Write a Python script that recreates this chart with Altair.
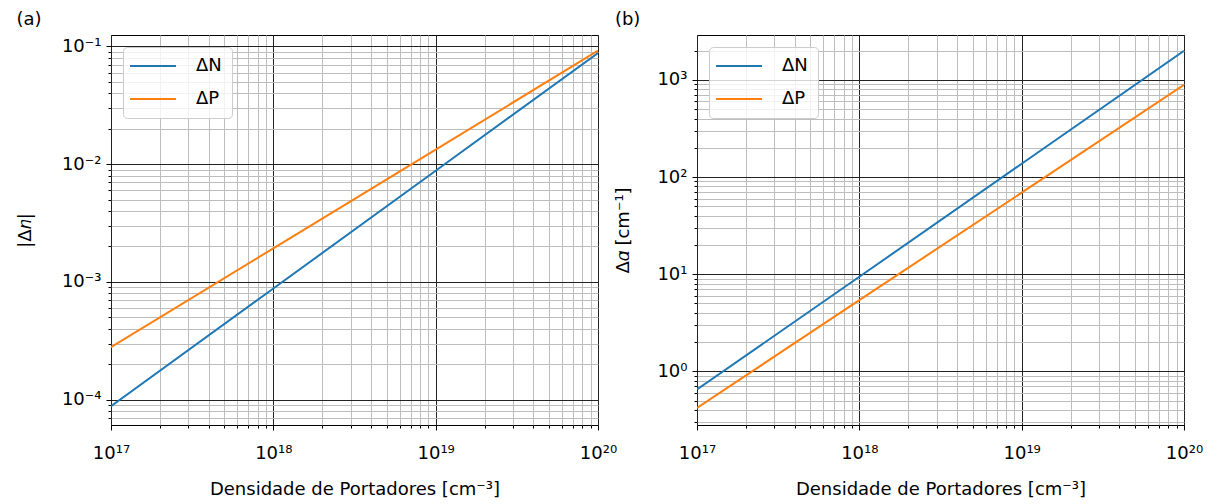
import altair as alt
import pandas as pd

# Carrier density [cm^-3]
densidade = [1e17, 1e18, 1e19, 1e20]

# (a) refractive index change |Δn|
dn_eletrons = [8.8e-5, 8.8e-4, 8.8e-3, 8.8e-2]
dn_lacunas = [2.8e-4, 1.93e-3, 1.33e-2, 9.2e-2]

# (b) absorption change Δα [cm^-1]
da_eletrons = [0.65, 9.4, 137, 1990]
da_lacunas = [0.42, 5.4, 69, 890]

series = ["ΔN", "ΔP"]
cores = ["#1f77b4", "#ff7f0e"]

FONT = "DejaVu Sans"
FS = 18
W, H = 487, 390

SUP = str.maketrans("-0123456789", "⁻⁰¹²³⁴⁵⁶⁷⁸⁹")


def frame(values_n, values_p):
    return pd.DataFrame({
        "x": densidade * 2,
        "y": values_n + values_p,
        "serie": [series[0]] * len(values_n) + [series[1]] * len(values_p),
    })


def log_ticks(e0, e1):
    vals = []
    for e in range(e0, e1):
        for m in range(1, 10):
            vals.append(m * 10.0 ** e)
    vals.append(10.0 ** e1)
    return vals


def label_expr(exps):
    expr = "''"
    for e in reversed(exps):
        expr = (f"abs(log(datum.value)/LN10 - ({e})) < 1e-6 ? "
                f"'10{str(e).translate(SUP)}' : " + expr)
    return expr


DECADE = "abs(log(datum.value)/LN10 - round(log(datum.value)/LN10)) < 1e-6"


def axis(values, exps, title, **kw):
    return alt.Axis(
        values=values,
        labelExpr=label_expr(exps),
        title=title,
        grid=True,
        gridColor={"condition": {"test": DECADE, "value": "#222222"}, "value": "#bdbdbd"},
        gridWidth=1,
        tickSize={"condition": {"test": DECADE, "value": 5}, "value": 3},
        tickColor="black",
        domain=False,
        labelFont=FONT,
        labelFontSize=FS,
        labelColor="black",
        titleFont=FONT,
        titleFontSize=FS,
        titleFontWeight="normal",
        titleColor="black",
        labelFlush=False,
        labelOverlap=False,
        **kw,
    )


def painel(df, rotulo, ytitle, ydomain, yexp, ytitle_pad):
    xs = alt.X(
        "x:Q",
        scale=alt.Scale(type="log", domain=[1e17, 1e20], nice=False),
        axis=axis(log_ticks(17, 20), [17, 18, 19, 20],
                  "Densidade de Portadores [cm⁻³]", labelPadding=14, titlePadding=18),
    )
    ys = alt.Y(
        "y:Q",
        scale=alt.Scale(type="log", domain=ydomain, nice=False),
        axis=axis(log_ticks(yexp[0] - 1, yexp[1] + 1), list(range(yexp[0], yexp[1] + 1)),
                  ytitle, labelPadding=5, titlePadding=ytitle_pad),
    )
    return alt.Chart(df).mark_line(strokeWidth=2, clip=True).encode(
        x=xs,
        y=ys,
        color=alt.Color(
            "serie:N",
            scale=alt.Scale(domain=series, range=cores),
            legend=alt.Legend(
                title=None,
                orient="none",
                legendX=12,
                legendY=12,
                symbolType="M-4,0H4",
                symbolSize=132,
                symbolStrokeWidth=2.2,
                symbolOffset=11,
                labelFont=FONT,
                labelFontSize=FS,
                labelColor="black",
                labelOffset=34,
                rowPadding=15,
                padding=10,
                fillColor="rgba(255,255,255,0.8)",
                strokeColor="#cccccc",
                cornerRadius=4,
            ),
        ),
    ).properties(
        width=W,
        height=H,
        title=alt.TitleParams(rotulo, anchor="start", font=FONT, fontSize=FS,
                              fontWeight="normal", color="black", offset=6),
    )


a = painel(frame(dn_eletrons, dn_lacunas), "(a)", "|Δ𝑛|", [6.1e-5, 0.125], (-4, -1), 27)
b = painel(frame(da_eletrons, da_lacunas), "(b)", "Δ𝛼 [cm⁻¹]", [0.28, 2900], (0, 3), 24)

chart = alt.hconcat(a, b, spacing=99, bounds="flush").resolve_scale(
    color="independent"
).properties(
    padding={"left": 15, "top": 10, "right": 10, "bottom": 4},
).configure_view(stroke="black", strokeWidth=1)

chart.save("out.html", embed_options={"renderer": "svg", "actions": False})
